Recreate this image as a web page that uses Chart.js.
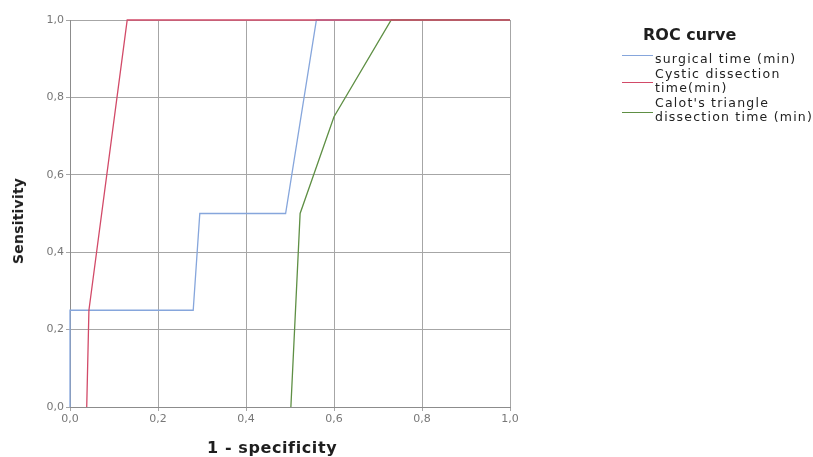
<!DOCTYPE html>
<html>
<head>
<title>ROC curve</title>
<script src="https://cdn.jsdelivr.net/npm/chart.js"></script>
<style>
    body {
        margin: 0;
        background: #fff;
        font-family: "DejaVu Sans", sans-serif;
    }
    #wrap {
        position: relative;
        width: 813px;
        height: 457px;
        overflow: hidden;
    }
    .axis-title {
        position: absolute;
        font-weight: bold;
        color: #1e1e1e;
        white-space: nowrap;
    }
    #xTitle {
        left: 207px;
        top: 438px;
        font-size: 16px;
        letter-spacing: 0.6px;
    }
    #yTitle {
        left: 18px;
        top: 221px;
        font-size: 14px;
        letter-spacing: 0.2px;
        transform: translate(-50%, -50%) rotate(-90deg);
    }
    #legendTitle {
        position: absolute;
        left: 643px;
        top: 25px;
        font-weight: bold;
        font-size: 16px;
        color: #1e1e1e;
    }
    .leg-text {
        position: absolute;
        left: 655px;
        font-size: 12.5px;
        letter-spacing: 1.22px;
        line-height: 13.5px;
        color: #222;
        white-space: nowrap;
    }
    .leg-line {
        position: absolute;
        left: 622px;
        width: 31px;
        height: 1px;
    }
</style>
</head>
<body>
<div id="wrap">
    <canvas id="roc" width="813" height="457"></canvas>
    <div class="axis-title" id="xTitle">1 - specificity</div>
    <div class="axis-title" id="yTitle">Sensitivity</div>
    <div id="legendTitle">ROC curve</div>
</div>

<script>
    // ROC points (1 - specificity, sensitivity)
    const surgicalX = [0, 0, 0.28, 0.295, 0.49, 0.56, 1];
    const surgicalY = [0, 0.25, 0.25, 0.5, 0.5, 1, 1];
    const cysticX = [0.038, 0.043, 0.13, 1];
    const cysticY = [0, 0.25, 1, 1];
    const calotX = [0.502, 0.523, 0.6, 0.73, 1];
    const calotY = [0, 0.5, 0.75, 1, 1];

    const seriesNames = ["surgical time (min)", "Cystic dissection\ntime(min)", "Calot's triangle\ndissection time (min)"];
    const seriesColors = ["#86a6dc", "#d24a68", "#5e8f44"];
    const tickValues = [0, 0.2, 0.4, 0.6, 0.8, 1.0];

    const toPoints = (xs, ys) => xs.map((x, i) => ({x: x, y: ys[i]}));
    const fmt = v => Number(v).toFixed(1).replace(".", ",");

    const series = [
        toPoints(surgicalX, surgicalY),
        toPoints(cysticX, cysticY),
        toPoints(calotX, calotY)
    ];
    const drawOrder = [2, 0, 1];

    // html legend, labels wrap onto two lines
    const wrap = document.getElementById("wrap");
    const textTops = [52, 67, 96];
    const lineTops = [55, 82, 112];
    seriesNames.forEach((name, i) => {
        const txt = document.createElement("div");
        txt.className = "leg-text";
        txt.style.top = textTops[i] + "px";
        txt.innerHTML = name.split("\n").join("<br>");
        wrap.appendChild(txt);

        const ln = document.createElement("div");
        ln.className = "leg-line";
        ln.style.top = lineTops[i] + "px";
        ln.style.background = seriesColors[i];
        wrap.appendChild(ln);
    });

    const gridColor = "#a6a6a6";
    const tickFont = {family: "DejaVu Sans", size: 11};

    new Chart(document.getElementById("roc"), {
        type: "line",
        data: {
            datasets: series.map((pts, i) => ({
                label: seriesNames[i],
                data: pts,
                borderColor: seriesColors[i],
                borderWidth: 1.3,
                pointRadius: 0,
                tension: 0,
                fill: false,
                clip: false,
                order: drawOrder[i]
            }))
        },
        options: {
            responsive: false,
            animation: false,
            layout: {
                padding: {left: 0, right: 303, top: 20, bottom: 0}
            },
            plugins: {
                legend: {display: false},
                tooltip: {enabled: false}
            },
            scales: {
                x: {
                    type: "linear",
                    min: 0,
                    max: 1,
                    afterBuildTicks: s => { s.ticks = tickValues.map(v => ({value: v})); },
                    afterFit: s => { s.height = 50; },
                    ticks: {
                        callback: v => fmt(v),
                        color: "#777",
                        font: tickFont,
                        padding: 2,
                        maxRotation: 0
                    },
                    grid: {color: gridColor, tickLength: 4, tickColor: gridColor},
                    border: {color: "#8c8c8c"}
                },
                y: {
                    min: 0,
                    max: 1,
                    afterBuildTicks: s => { s.ticks = tickValues.map(v => ({value: v})); },
                    afterFit: s => { s.width = 70; },
                    ticks: {
                        callback: v => fmt(v),
                        color: "#777",
                        font: tickFont,
                        padding: 2
                    },
                    grid: {color: gridColor, tickLength: 4, tickColor: gridColor},
                    border: {color: "#8c8c8c"}
                }
            }
        }
    });
</script>
</body>
</html>
